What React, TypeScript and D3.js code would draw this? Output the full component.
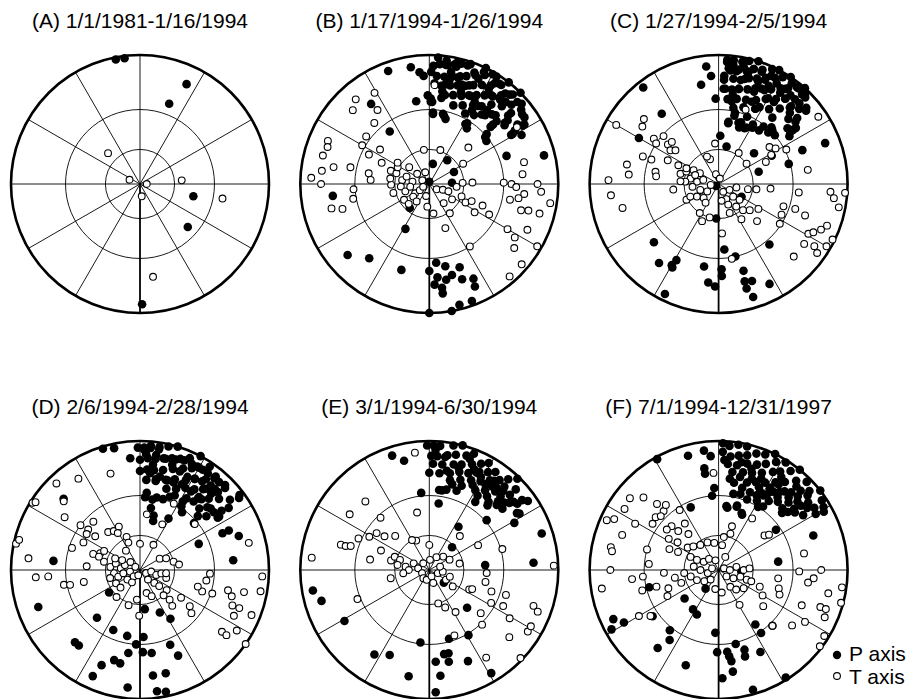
import React from 'react';
import * as d3 from 'd3';

// Each entry: [trend in degrees clockwise from north, plunge in degrees]
type Axis = [number, number];

const panelTitles = [
  '(A) 1/1/1981-1/16/1994',
  '(B) 1/17/1994-1/26/1994',
  '(C) 1/27/1994-2/5/1994',
  '(D) 2/6/1994-2/28/1994',
  '(E) 3/1/1994-6/30/1994',
  '(F) 7/1/1994-12/31/1997',
];

const legendLabels = ['P axis', 'T axis'];

// ---- (A) ----
const pAxesA: Axis[] = [[349,1],[353,1],[25,9],[20,23],[103,44],[132,37],[179,4]];
const tAxesA: Axis[] = [[314,52],[292,80],[90,84],[172,79],[85,54],[100,24],[172,18]];

// ---- (B) ----
const pAxesB: Axis[] = [
  [2,5],[5,4],[8,4],[12,3],[15,2],[19,1],
  [4,10],[8,10],[12,9],[16,8],[19,7],[23,5],[27,3],[30,1],
  [7,15],[12,14],[16,13],[20,12],[24,10],[28,8],[32,6],[35,3],[38,0],
  [10,20],[15,19],[20,18],[24,16],[28,14],[32,12],[36,10],[39,7],[42,4],[45,0],
  [17,25],[23,23],[29,20],[34,18],[38,14],[43,11],[46,7],[49,3],
  [27,27],[33,25],[39,21],[44,17],[49,12],[53,6],
  [32,32],[47,22],[52,17],[56,11],[58,9],
  [49,29],[59,17],[62,12],
  [1,8],[1,23],[2,25],[8,18],[8,22],[9,14],[11,11],[11,7],[9,4],[13,4],
  [15,9],[18,12],[19,16],[22,11],[25,16],[29,18],[32,19],[30,23],[37,22],[38,18],
  [42,18],[47,19],[47,24],[51,16],[51,14],[49,10],[43,8],[40,9],[35,10],[32,8],
  [33,4],[36,3],[40,5],[25,6],[26,2],[22,4],[18,2],[26,0],[32,1],[43,3],
  [47,4],[51,5],[55,6],[58,8],[58,14],[59,16],[50,31],[53,32],[31,33],[34,35],
  [11,32],[14,35],[3,32],[359,21],[3,14],[4,1],[8,2],[13,2],
  [3,33],[12,33],[1,25],[351,24],[324,15],[323,36],[340,4],[351,5],[355,8],[357,10],
  [70,25],[76,5],[37,64],[10,72],[64,66],[87,70],[0,88],[219,63],[208,47],[263,16],
  [229,10],[219,17],[198,20],
  [180,22],[175,27],[169,24],[166,18],[160,21],[161,14],[155,12],[156,8],[177,14],
  [173,12],[173,9],[166,2],[160,2],[170,0],[180,0],[175,18],[170,16],
];
const tAxesB: Axis[] = [
  [329,11],[319,8],[314,11],[325,20],[318,25],[293,9],[290,10],[285,9],[307,27],[300,28],
  [296,35],[305,40],[280,16],[277,10],[273,5],[282,26],[280,39],[274,41],[270,10],[266,29],
  [259,28],[256,14],[254,20],[294,46],[289,55],
  [288,60],[278,66],[288,69],[278,75],[265,65],[253,68],[262,73],[237,75],[269,57],[256,58],
  [238,64],[226,65],[232,72],[237,80],[298,83],[310,76],[341,79],[246,84],[195,79],[216,71],
  [298,59],[310,67],[278,56],[185,70],
  [351,60],[18,59],[47,45],[3,15],[57,12],[59,56],[304,57],
  [126,82],[113,77],[111,72],[96,66],[88,61],[88,53],[111,60],[117,55],[112,51],[124,66],
  [143,69],[145,59],[172,64],[160,50],[122,45],[112,42],[117,35],[147,30],[89,30],[90,25],
  [92,22],[101,25],[99,20],[96,17],[90,10],[94,8],[77,16],[84,18],[106,17],[105,13],
  [105,7],[99,3],[120,20],[122,14],[115,10],[120,2],[127,11],[131,3],[139,3],
];

// ---- (C) ----
const pAxesC: Axis[] = [
  [354,5],[356,10],[350,14],[358,23],[322,3],[321,20],[300,19],[2,49],[12,57],[233,87],
  [184,60],[119,67],[73,54],[49,50],[74,31],[68,20],[69,7],[62,40],[140,27],[175,36],
  [167,30],[178,23],[178,19],[164,20],[165,14],[161,13],[165,10],[163,5],[153,8],[190,24],
  [186,15],[182,13],[228,22],[217,15],[210,18],[209,22],[209,17],[206,3],
  [4,3],[7,2],[11,2],[14,1],[18,0],
  [6,7],[10,6],[14,6],[17,4],[21,3],[25,1],[28,0],
  [3,12],[8,11],[12,11],[16,9],[20,8],[24,6],[28,4],[31,2],[34,0],
  [3,17],[8,17],[12,16],[17,15],[21,13],[26,12],[29,10],[33,7],[36,5],[39,2],[42,0],
  [6,23],[12,22],[18,21],[24,19],[29,16],[34,13],[38,10],[42,7],[45,3],
  [11,28],[18,26],[26,24],[34,20],[39,16],[43,12],[47,9],[49,6],
  [23,31],[39,23],[47,17],[50,13],
  [20,40],[26,38],[31,36],[38,31],[43,28],[51,21],[54,17],
  [49,30],[56,23],[13,31],[9,39],[18,37],
  [4,2],[7,4],[5,6],[9,7],[3,10],[12,4],[15,6],[14,10],[17,4],[21,4],
  [21,9],[24,7],[26,4],[30,6],[27,9],[24,12],[21,15],[34,9],[35,6],[36,2],
  [40,2],[43,3],[44,2],[38,10],[39,7],[34,15],[30,15],[28,22],[9,24],[9,20],
  [4,17],[12,16],[22,21],[26,24],[43,11],[45,7],[50,7],[45,14],[51,15],[54,21],
  [54,19],[45,29],[44,32],[37,35],[30,34],[25,39],[20,36],[13,33],[9,38],
];
const tAxesC: Axis[] = [
  [300,5],[311,15],[307,17],[305,27],[311,31],[303,30],[308,37],[312,38],[305,41],[308,44],
  [290,26],[290,32],[282,18],[276,20],[281,37],[277,38],[272,9],[264,10],[256,15],[295,43],
  [295,52],[263,51],[244,59],[213,60],[204,55],[195,60],[341,67],[337,64],[355,55],[345,81],
  [285,56],[291,60],[299,65],[300,71],[281,65],[276,71],[274,61],[285,76],[264,67],[252,73],
  [237,78],[240,68],[227,72],[246,63],[274,57],[263,83],[215,70],[296,59],[291,68],
  [149,82],[118,79],[101,74],[153,75],[131,73],[127,67],[155,70],[142,65],[137,59],[130,55],
  [147,54],[134,45],[122,50],[98,57],[100,64],[170,75],[159,63],[13,85],
  [20,27],[33,58],[54,60],[54,38],[58,35],[63,29],[65,46],[61,40],[81,20],[56,4],
  [95,46],[109,34],[96,26],[108,26],[110,19],[116,33],[123,31],[94,8],[97,6],[94,1],
  [101,3],[119,13],[117,11],[114,8],[111,6],[116,1],[120,2],[123,7],[125,4],[125,12],
  [134,12],[176,48],[170,29],
];

// ---- (D) ----
const pAxesD: Axis[] = [
  [343,1],[348,2],[355,8],[0,15],[313,12],[276,22],[250,10],[222,16],[219,16],[222,37],
  [234,57],[204,36],[191,35],[202,13],[204,6],[196,18],[192,17],[188,24],[186,5],[183,30],
  [178,25],[172,24],[177,35],[173,56],[155,50],[148,42],[158,26],[156,18],[173,11],[166,11],
  [172,3],[168,2],[66,37],[84,18],[66,20],[66,16],[71,12],[15,47],[29,41],[36,32],[49,32],
  [359,3],[2,3],[5,3],[9,2],[13,1],[17,0],
  [0,9],[4,8],[8,8],[12,7],[16,6],[20,5],[24,3],[28,0],
  [4,14],[8,14],[13,13],[18,11],[23,9],[27,7],[30,5],[34,2],
  [4,20],[10,19],[16,18],[21,16],[27,14],[31,11],[36,8],[39,5],
  [18,23],[24,21],[29,18],[34,16],[39,12],[43,9],[46,5],
  [4,31],[13,30],[22,27],[33,23],[39,19],[44,15],[48,11],[54,3],
  [10,38],[33,29],[44,23],[49,18],[55,10],
  [14,43],[47,27],[51,23],[56,18],
  [2,4],[5,2],[9,3],[8,6],[3,6],[13,7],[17,9],[18,6],[22,5],[26,5],
  [29,5],[32,5],[35,5],[22,11],[27,12],[31,11],[35,10],[40,9],[39,4],[42,5],
  [45,4],[45,9],[43,12],[38,13],[39,18],[33,18],[26,17],[21,18],[17,18],[12,17],
  [6,16],[10,20],[5,28],[10,32],[18,30],[25,25],[32,26],[38,22],[41,18],[47,19],
  [52,18],[54,14],[56,17],[52,7],[53,2],[7,11],
];
const tAxesD: Axis[] = [
  [343,14],[326,9],[316,4],[312,13],[305,19],[302,1],[303,2],[282,1],[284,2],[276,8],
  [266,12],[266,19],[259,28],[258,32],[258,42],[274,45],[288,32],[296,38],[307,30],[308,36],
  [304,37],[307,43],[316,35],[320,48],[326,50],[334,49],[329,53],[338,59],[337,64],[324,69],
  [0,67],[28,65],[7,43],[26,47],[27,30],[50,32],[76,8],[293,53],[289,48],[298,55],
  [276,64],[285,68],[275,73],[288,76],[263,67],[253,70],[259,75],[261,81],[225,82],[255,63],
  [283,58],[288,53],[295,66],[299,72],[310,79],[304,85],[241,66],[233,76],[213,77],[198,85],
  [221,59],[198,58],[186,64],[181,51],[228,67],
  [117,84],[98,80],[107,75],[99,71],[107,66],[140,79],[132,73],[130,68],[127,61],[164,69],
  [156,65],[137,60],[135,54],[138,49],[124,48],[126,39],[130,35],[97,67],[76,60],[82,56],
  [60,70],[66,65],
  [93,33],[99,35],[109,36],[108,29],[103,20],[106,17],[102,11],[111,15],[111,11],[116,12],
  [112,4],[93,3],[100,3],[127,13],[127,10],[122,7],[125,0],[106,40],
];

// ---- (E) ----
const pAxesE: Axis[] = [
  [342,4],[347,8],[0,16],[354,28],[8,35],[7,26],[34,46],[45,62],[49,29],[61,16],
  [72,5],[86,12],[85,43],[131,73],[135,45],[164,32],[149,29],[187,31],[170,23],[167,23],
  [176,19],[168,18],[157,15],[174,11],[149,4],[177,3],[191,10],[205,18],[213,14],[239,15],
  [254,8],[260,5],
  [359,2],[2,2],[5,2],[11,1],[15,0],
  [1,7],[4,7],[9,6],[13,5],[18,4],[21,2],
  [2,11],[7,11],[13,10],[17,9],[22,7],[26,5],[29,3],
  [6,16],[12,15],[17,13],[22,12],[27,9],[31,7],[34,5],
  [13,19],[19,17],[25,15],[30,13],[34,10],[38,7],[41,4],[44,1],
  [9,26],[12,25],[19,24],[30,19],[35,16],[40,13],[43,10],[47,5],
  [34,25],[41,20],[45,16],[48,14],[51,10],[55,4],
  [57,12],[58,11],
  [3,4],[8,7],[20,5],[26,10],[37,12],[47,9],[53,6],[46,18],
  [24,9],[29,11],[33,13],[36,9],[39,11],[42,8],[44,13],[50,12],[53,9],[16,11],
  [10,14],[15,21],[21,20],[27,17],[33,21],[38,18],[42,22],[50,17],
];
const tAxesE: Axis[] = [
  [353,5],[317,18],[305,16],[317,32],[348,41],[286,19],[286,22],[287,25],[276,5],[294,28],
  [299,34],[305,37],[307,43],[315,49],[292,46],[280,40],[248,28],[258,56],[336,62],[0,68],
  [330,60],
  [284,56],[291,58],[289,63],[279,62],[278,69],[270,72],[263,67],[293,75],[279,80],[247,83],
  [216,81],[195,81],[161,84],[163,78],[110,82],[97,78],[120,73],[108,71],[125,65],[73,80],
  [318,82],[4,81],[46,73],[63,70],[29,77],[78,63],
  [116,52],[114,50],[165,60],[157,55],[148,48],[159,33],[130,35],[136,29],[118,33],[116,25],
  [108,26],[121,18],[130,12],[147,12],[134,1],[122,6],[109,9],[111,6],[119,6],[102,42],
  [109,36],[93,42],[74,29],[63,44],[88,2],[42,51],
];

// ---- (F) ----
const pAxesF: Axis[] = [
  [345,5],[331,1],[353,4],[356,7],[352,13],[352,16],[357,25],[355,30],[336,34],[2,1],
  [2,5],[7,37],[16,35],[23,40],[55,33],[70,14],[82,40],[94,70],[215,70],[213,50],
  [206,48],[230,52],[256,32],[235,26],[245,6],[241,3],[241,10],[219,28],[215,23],[218,15],
  [199,14],[183,38],[181,25],[178,10],[174,25],[173,22],[172,19],[167,29],[162,24],[163,20],
  [153,19],[146,36],[146,29],[136,28],[172,13],[164,2],[148,1],
  [5,2],[9,1],[13,1],
  [6,7],[10,6],[14,5],[18,3],[22,2],[26,0],
  [5,11],[10,11],[15,9],[20,8],[24,6],[28,3],[32,1],
  [8,15],[14,14],[19,13],[24,11],[29,8],[32,6],[36,3],[39,0],
  [10,21],[18,19],[23,17],[28,15],[33,12],[37,9],[41,5],[45,2],
  [22,24],[28,21],[33,19],[38,15],[43,11],[46,7],[49,4],[52,0],
  [29,27],[36,23],[41,20],[46,16],[49,12],[53,8],[56,2],
  [8,38],[16,36],[35,28],[46,21],[51,16],[57,7],[59,3],
  [22,39],[48,23],[53,17],[61,4],
  [3,9],[12,9],[18,11],[25,14],[32,16],[34,8],[43,7],[50,6],[50,20],[52,12],
  [16,23],[11,28],[22,29],[32,30],
  [7,19],[13,17],[16,27],[20,16],[26,19],[27,24],[31,22],[35,17],[39,18],[40,13],
  [44,14],[47,10],[55,10],[57,14],[60,8],[35,12],
];
const tAxesF: Axis[] = [
  [357,16],[309,7],[314,12],[303,8],[299,17],[294,3],[296,6],[290,13],[282,9],[280,10],
  [270,10],[261,5],[264,22],[265,29],[286,30],[275,33],[305,26],[310,25],[317,20],[317,26],
  [313,27],[321,24],[327,32],[324,42],[313,37],[308,36],[314,43],[320,50],[302,41],[304,48],
  [293,45],[294,52],[267,44],[255,27],[250,45],[243,42],[255,37],[240,19],[236,25],[18,57],
  [306,57],[313,60],[324,63],[338,64],[351,66],[8,68],[295,63],[295,69],[299,75],[319,77],
  [342,81],[278,68],[270,74],[254,80],[284,84],[265,60],[257,65],[245,69],[232,74],[220,79],
  [190,73],[172,70],[260,52],[251,56],
  [72,85],[90,80],[80,74],[90,68],[87,63],[129,81],[119,75],[107,70],[109,64],[145,72],
  [138,67],[126,63],[109,60],[112,52],[120,47],[129,42],[136,28],[107,38],[112,36],[98,40],
  [127,19],[121,14],[91,26],[98,20],[95,17],[90,13],[79,22],[113,20],[110,10],[102,8],
  [114,6],[110,7],[98,2],[105,1],[127,1],[122,2],[149,55],[17,51],[27,77],[9,61],
  [33,39],[53,42],[55,39],
];

const pSets = [pAxesA, pAxesB, pAxesC, pAxesD, pAxesE, pAxesF];
const tSets = [tAxesA, tAxesB, tAxesC, tAxesD, tAxesE, tAxesF];

// Net guides: small circles of equal plunge and azimuth spokes
const ringPlunges = [60, 30];
const spokeTrends = d3.range(0, 360, 30);

const W = 910;
const H = 699;
const R = 129;
const FONT = "'Liberation Sans', Arial, Helvetica, sans-serif";

// Lower-hemisphere stereographic net: distance from centre is R*tan((90-plunge)/2)
const radius = d3.scaleLinear().domain([0, 1]).range([0, R]);
const plungeToR = (plunge: number) => radius(Math.tan(((90 - plunge) * Math.PI) / 360));
const project = ([trend, plunge]: Axis): [number, number] => {
  const r = plungeToR(plunge);
  const a = (trend * Math.PI) / 180;
  return [r * Math.sin(a), -r * Math.cos(a)];
};

const colX = d3.scaleLinear().domain([0, 2]).range([140, 718.6]);
const rowY = d3.scaleLinear().domain([0, 1]).range([184, 570]);

function Net({ title, p, t, cx, cy }: { title: string; p: Axis[]; t: Axis[]; cx: number; cy: number }) {
  return (
    <g transform={`translate(${cx},${cy})`}>
      <text x={0} y={-156} textAnchor="middle" fontFamily={FONT} fontSize={21} fill="#000">
        {title}
      </text>
      {spokeTrends.map((tr) => {
        const [x, y] = project([tr, 0]);
        return (
          <line key={tr} x1={0} y1={0} x2={x} y2={y} stroke="#000" strokeWidth={tr === 180 ? 1.8 : 0.9} />
        );
      })}
      {ringPlunges.map((pl) => (
        <circle key={pl} r={plungeToR(pl)} fill="none" stroke="#000" strokeWidth={0.9} />
      ))}
      <circle r={R} fill="none" stroke="#000" strokeWidth={2.6} />
      {p.map((d, i) => {
        const [x, y] = project(d);
        return <circle key={`p${i}`} cx={x} cy={y} r={4.3} fill="#000" />;
      })}
      {t.map((d, i) => {
        const [x, y] = project(d);
        return <circle key={`t${i}`} cx={x} cy={y} r={3.4} fill="#fff" stroke="#000" strokeWidth={1.1} />;
      })}
    </g>
  );
}

export default function App() {
  return (
    <svg
      width={W}
      height={H}
      viewBox={`0 0 ${W} ${H}`}
      style={{ position: 'absolute', left: 0, top: 0, background: '#fff' }}
    >
      <rect width={W} height={H} fill="#fff" />
      {panelTitles.map((title, i) => (
        <Net
          key={title}
          title={title}
          p={pSets[i]}
          t={tSets[i]}
          cx={colX(i % 3)}
          cy={rowY(Math.floor(i / 3))}
        />
      ))}
      <g fontFamily={FONT} fontSize={21} fill="#000">
        <circle cx={837} cy={655} r={4.2} fill="#000" />
        <text x={849} y={661}>{legendLabels[0]}</text>
        <circle cx={837} cy={676} r={3.4} fill="#fff" stroke="#000" strokeWidth={1.1} />
        <text x={849} y={684}>{legendLabels[1]}</text>
      </g>
    </svg>
  );
}
